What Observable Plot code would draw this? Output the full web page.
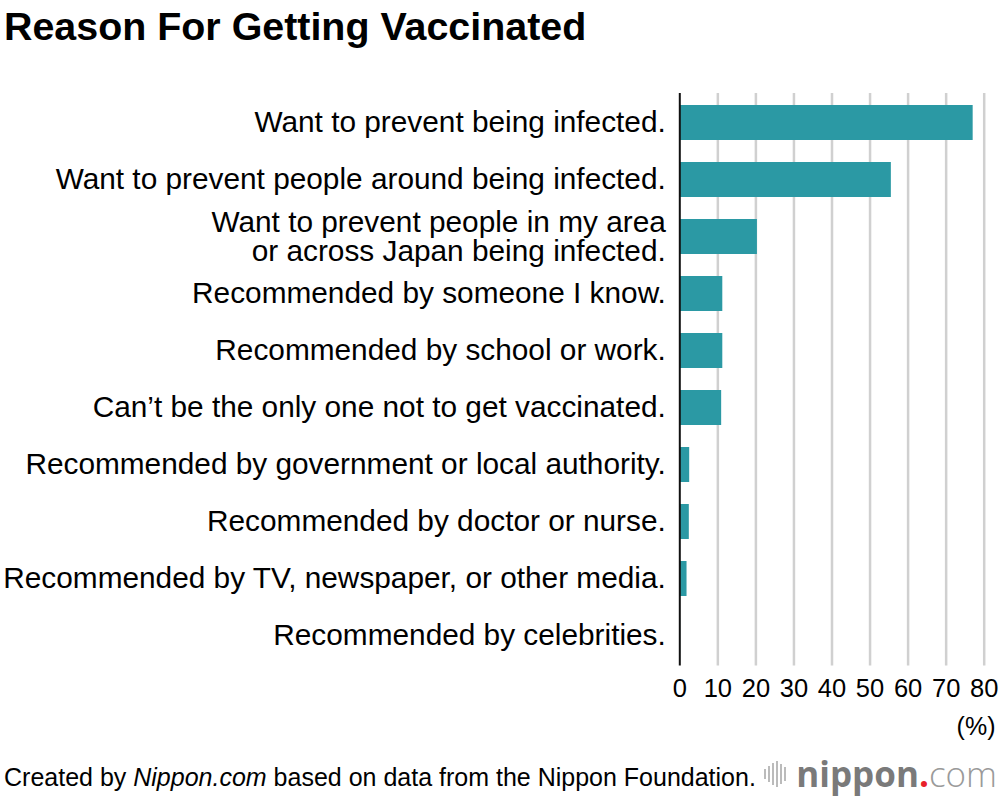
<!DOCTYPE html>
<html>
<head>
<meta charset="utf-8">
<script src="https://cdn.jsdelivr.net/npm/d3@7"></script>
<script src="https://cdn.jsdelivr.net/npm/@observablehq/plot@0.6"></script>
<style>
  html, body { margin: 0; padding: 0; background: #fff; }
  body { width: 1000px; height: 796px; overflow: hidden; font-family: "Liberation Sans", Arial, Helvetica, sans-serif; color: #111; }
  #title { box-sizing: border-box; height: 60px; padding: 7px 0 0 4px; font-size: 39.4px; line-height: 39px; font-weight: bold; color: #000; white-space: nowrap; }
  #chart svg { display: block; }
  #footer { position: relative; height: 46px; }
  #source { position: absolute; left: 4px; top: 13px; font-size: 25px; line-height: 28px; color: #000; white-space: nowrap; }
  #logo { position: absolute; right: 3px; top: 6px; display: flex; align-items: center; white-space: nowrap; }
  #logo .bars { display: flex; align-items: center; margin-right: 8px; }
  #logo .bars span { display: inline-block; width: 2px; background: #bbb; margin-right: 2px; }
  #logo .n { font-family: "Open Sans", "DejaVu Sans", sans-serif; font-weight: 700; font-size: 35px; color: #7a7a7a; line-height: 36px; }
  #logo .d { font-family: "Open Sans", sans-serif; font-weight: 700; font-size: 35px; color: #e8202a; line-height: 36px; }
  #logo .c { font-family: "Open Sans", sans-serif; font-weight: 300; font-size: 35px; color: #9a9a9a; line-height: 36px; }
</style>
</head>
<body>
<div id="title">Reason For Getting Vaccinated</div>
<div id="chart"></div>
<div id="footer">
  <div id="source">Created by <i>Nippon.com</i> based on data from the Nippon Foundation.</div>
  <div id="logo">
    <span class="bars"><span style="height:10px"></span><span style="height:16px"></span><span style="height:22px"></span><span style="height:26px"></span><span style="height:20px"></span><span style="height:14px"></span></span>
    <span class="n">nippon</span><span class="d">.</span><span class="c">com</span>
  </div>
</div>
<script>
const categories = [
  "Want to prevent being infected.",
  "Want to prevent people around being infected.",
  "Want to prevent people in my area\nor across Japan being infected.",
  "Recommended by someone I know.",
  "Recommended by school or work.",
  "Can\u2019t be the only one not to get vaccinated.",
  "Recommended by government or local authority.",
  "Recommended by doctor or nurse.",
  "Recommended by TV, newspaper, or other media.",
  "Recommended by celebrities."
];
const values = [77.1, 55.6, 20.4, 11.3, 11.3, 11.0, 2.6, 2.5, 1.9, 0.2];
const xTicks = [0, 10, 20, 30, 40, 50, 60, 70, 80];
const unitLabel = ["(%)"];

const data = categories.map((label, i) => ({label, value: values[i]}));

const chart = Plot.plot({
  width: 1000,
  height: 690,
  marginTop: 33,
  marginBottom: 84.5,
  marginLeft: 679.3,
  marginRight: 16.3,
  x: {domain: [0, 80]},
  y: {domain: categories, paddingInner: 0.39, paddingOuter: 0.195},
  style: {fontFamily: "'Liberation Sans', Arial, Helvetica, sans-serif", color: "#111", background: "#fff"},
  marks: [
    Plot.ruleX(xTicks.filter(d => d > 0), {stroke: "#d0d0d0", strokeWidth: 2.5}),
    Plot.barX(data, {x: "value", y: "label", fill: "#2b99a4"}),
    Plot.ruleX([0], {stroke: "#111", strokeWidth: 2}),
    Plot.axisX({ticks: xTicks, tickSize: 0, tickPadding: 13, fontSize: 25.5, label: null, fill: "#000"}),
    Plot.axisY({tickSize: 0, tickPadding: 14, fontSize: 29.8, lineHeight: 0.98, label: null, fill: "#000"}),
    Plot.text(unitLabel, {frameAnchor: "bottom-right", dx: 11.3, dy: 60.5, textAnchor: "end", lineAnchor: "middle", fontSize: 25, fill: "#000"})
  ]
});
document.getElementById("chart").appendChild(chart);
</script>
</body>
</html>
